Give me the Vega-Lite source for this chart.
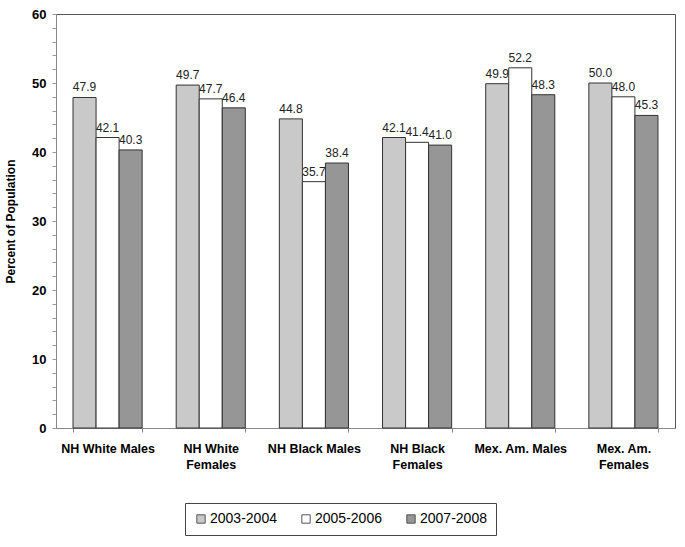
{
  "$schema": "https://vega.github.io/schema/vega-lite/v6.json",
  "width": 619,
  "height": 414,
  "autosize": {"type": "none"},
  "padding": {"left": 56, "top": 14, "right": 10, "bottom": 119},
  "background": "white",
  "config": {
    "font": "Liberation Sans",
    "view": {"stroke": "#555", "strokeWidth": 1}
  },
  "data": {
    "values": [
      {"group": "NH White Males", "period": "2003-2004", "pct": 47.9},
      {"group": "NH White Males", "period": "2005-2006", "pct": 42.1},
      {"group": "NH White Males", "period": "2007-2008", "pct": 40.3},
      {"group": "NH White|Females", "period": "2003-2004", "pct": 49.7},
      {"group": "NH White|Females", "period": "2005-2006", "pct": 47.7},
      {"group": "NH White|Females", "period": "2007-2008", "pct": 46.4},
      {"group": "NH Black Males", "period": "2003-2004", "pct": 44.8},
      {"group": "NH Black Males", "period": "2005-2006", "pct": 35.7},
      {"group": "NH Black Males", "period": "2007-2008", "pct": 38.4},
      {"group": "NH Black|Females", "period": "2003-2004", "pct": 42.1},
      {"group": "NH Black|Females", "period": "2005-2006", "pct": 41.4},
      {"group": "NH Black|Females", "period": "2007-2008", "pct": 41.0},
      {"group": "Mex. Am. Males", "period": "2003-2004", "pct": 49.9},
      {"group": "Mex. Am. Males", "period": "2005-2006", "pct": 52.2},
      {"group": "Mex. Am. Males", "period": "2007-2008", "pct": 48.3},
      {"group": "Mex. Am.|Females", "period": "2003-2004", "pct": 50.0},
      {"group": "Mex. Am.|Females", "period": "2005-2006", "pct": 48.0},
      {"group": "Mex. Am.|Females", "period": "2007-2008", "pct": 45.3}
    ]
  },
  "encoding": {
    "x": {
      "field": "group",
      "type": "nominal",
      "sort": null,
      "scale": {"paddingInner": 0.33, "paddingOuter": 0.165},
      "axis": {
        "title": null,
        "labelAngle": 0,
        "labelExpr": "split(datum.label, '|')",
        "labelFont": "Liberation Sans",
        "labelFontSize": 12.5,
        "labelFontWeight": "bold",
        "labelColor": "#000",
        "labelPadding": 10,
        "labelLineHeight": 16,
        "tickBand": "extent",
        "tickSize": 4,
        "tickColor": "#888",
        "domainColor": "#888"
      }
    },
    "xOffset": {"field": "period", "type": "nominal"},
    "y": {
      "field": "pct",
      "type": "quantitative",
      "scale": {"domain": [0, 60], "nice": false},
      "axis": {
        "title": "Percent of Population",
        "titleFont": "Liberation Sans",
        "titleFontSize": 12,
        "titleFontWeight": "bold",
        "titleColor": "#000",
        "titlePadding": 14,
        "values": [0,2,4,6,8,10,12,14,16,18,20,22,24,26,28,30,32,34,36,38,40,42,44,46,48,50,52,54,56,58,60],
        "labelExpr": "datum.value % 10 === 0 ? datum.label : ''",
        "labelFont": "Liberation Sans",
        "labelFontSize": 13,
        "labelFontWeight": "bold",
        "labelColor": "#000",
        "labelPadding": 6,
        "tickSize": 4,
        "tickColor": "#999",
        "domainColor": "#888",
        "grid": false
      }
    }
  },
  "layer": [
    {
      "mark": {"type": "bar", "stroke": "#333", "strokeWidth": 1},
      "encoding": {
        "fill": {
          "field": "period",
          "type": "nominal",
          "scale": {"domain": ["2003-2004", "2005-2006", "2007-2008"], "range": ["#c9c9c9", "#ffffff", "#969696"]},
          "legend": {
            "title": null,
            "orient": "none",
            "direction": "horizontal",
            "legendX": 129,
            "legendY": 489,
            "symbolType": "square",
            "symbolSize": 70,
            "symbolStrokeColor": "#555",
            "symbolStrokeWidth": 1,
            "labelFont": "Liberation Sans",
            "labelFontSize": 14,
            "labelColor": "#000",
            "labelOffset": 2,
            "columnPadding": 22,
            "padding": 9,
            "strokeColor": "#444",
            "fillColor": "white"
          }
        }
      }
    },
    {
      "mark": {"type": "text", "dy": -10, "fontSize": 12, "font": "Liberation Sans", "color": "#222"},
      "encoding": {
        "text": {"field": "pct", "type": "quantitative", "format": ".1f"}
      }
    }
  ]
}
